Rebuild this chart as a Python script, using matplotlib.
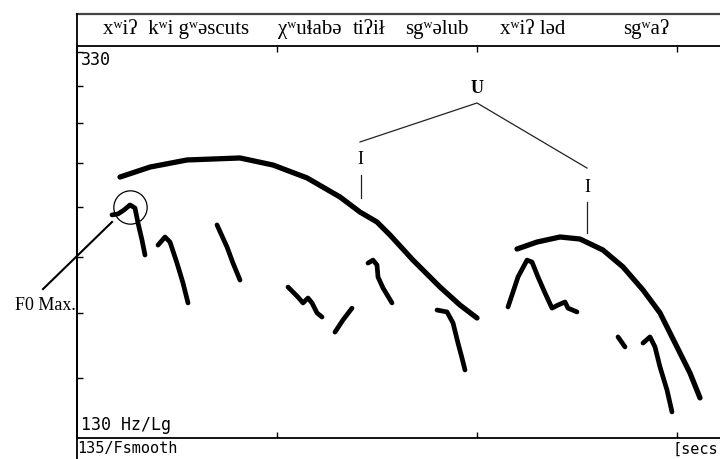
import matplotlib
matplotlib.use("Agg")
import matplotlib.pyplot as plt
from matplotlib.lines import Line2D
from matplotlib.ticker import NullLocator

SERIF = ["Liberation Serif", "DejaVu Serif"]
MONO = "DejaVu Sans Mono"

W, H = 720, 459

# smoothed intonation contours (secs, Hz)
ARC1_T = [0.215, 0.365, 0.55, 0.815, 0.98, 1.15, 1.315, 1.415, 1.5, 1.565, 1.68, 1.815, 1.915, 2.0]
ARC1_HZ = [241.7, 247.5, 251.7, 252.9, 248.7, 241.2, 230.5, 222.4, 217.2, 210.6, 198.4, 186.1, 178.3, 172.9]

ARC2_T = [2.2, 2.3, 2.415, 2.515, 2.63, 2.73, 2.83, 2.915, 3.0, 3.065, 3.115]
ARC2_HZ = [203.7, 207.1, 209.6, 208.6, 203.2, 195.2, 184.8, 175.0, 161.4, 151.7, 143.0]

# raw F0 fragments
F0_A_T = [0.175, 0.205, 0.235, 0.265, 0.29, 0.305, 0.325, 0.34]
F0_A_HZ = [220.9, 221.4, 223.5, 226.2, 224.5, 216.7, 208.1, 200.8]
F0_B_T = [0.405, 0.44, 0.465, 0.5, 0.53, 0.555]
F0_B_HZ = [205.6, 209.6, 207.1, 197.0, 187.9, 179.2]
F0_C_T = [0.7, 0.75, 0.78, 0.815]
F0_C_HZ = [215.7, 204.7, 197.0, 189.2]
F0_D_T = [1.055, 1.08, 1.105, 1.13, 1.155, 1.175, 1.2, 1.225]
F0_D_HZ = [186.1, 183.9, 181.7, 179.2, 181.3, 179.2, 175.0, 173.3]
F0_E_T = [1.29, 1.33, 1.375]
F0_E_HZ = [167.2, 172.1, 177.0]
F0_F_T = [1.455, 1.48, 1.5, 1.505, 1.53, 1.575]
F0_F_HZ = [197.0, 198.4, 196.1, 190.6, 185.7, 179.2]
F0_G_T = [1.8, 1.85, 1.88, 1.905, 1.925, 1.94]
F0_G_HZ = [176.2, 175.4, 170.9, 162.9, 157.2, 152.8]
F0_H_T = [2.155, 2.18, 2.205, 2.25, 2.275, 2.305, 2.34, 2.375, 2.405, 2.44, 2.455, 2.5]
F0_H_HZ = [177.5, 183.9, 190.6, 198.4, 197.5, 190.6, 183.5, 177.0, 178.3, 179.6, 177.0, 175.4]
F0_I_T = [2.705, 2.74]
F0_I_HZ = [165.3, 161.4]
F0_J_T = [2.83, 2.865, 2.89, 2.915, 2.95, 2.975]
F0_J_HZ = [162.9, 165.3, 161.4, 153.9, 145.7, 138.3]

# transcription across the top, with start time of each chunk
WORDS = ["xʷiʔ  kʷi gʷəscuts", "χʷuɬabə", "tiʔił", "sgʷəlub", "xʷiʔ ləd", "sgʷaʔ"]
WORD_T = [0.13, 1.005, 1.38, 1.64, 2.115, 2.73]

X_TICKS = [1, 2, 3]
Y_TICKS = [150, 175, 200, 225, 250, 275, 300, 325]

# F0 max marker and phrase tree (U over two I's)
PEAK_T, PEAK_HZ = 0.265, 225.1
TREE_T = [1.415, 2.0, 2.55]
TREE_HZ = [262.7, 288.2, 246.9]


fig = plt.figure(figsize=(7.2, 4.59), dpi=100)
ax = fig.add_axes([77 / W, (H - 438) / H, (W - 77) / W, (438 - 46) / H])
ax.set_yscale("log")
ax.set_xlim(0, 3.215)
ax.set_ylim(130, 330)
ax.set_xticks(X_TICKS)
ax.set_yticks(Y_TICKS)
ax.yaxis.set_minor_locator(NullLocator())
ax.tick_params(direction="in", length=4, width=1, top=True,
               labelleft=False, labelbottom=False)
ax.spines["right"].set_visible(False)
for s in ["left", "top", "bottom"]:
    ax.spines[s].set_linewidth(1.3)

thick = dict(color="black", lw=3.8, solid_capstyle="round", solid_joinstyle="round")
ax.plot(ARC1_T, ARC1_HZ, **thick)
ax.plot(ARC2_T, ARC2_HZ, **thick)

frag = dict(color="black", lw=3.4, solid_capstyle="round", solid_joinstyle="round")
for t, hz in [(F0_A_T, F0_A_HZ), (F0_B_T, F0_B_HZ), (F0_C_T, F0_C_HZ),
              (F0_D_T, F0_D_HZ), (F0_E_T, F0_E_HZ), (F0_F_T, F0_F_HZ),
              (F0_G_T, F0_G_HZ), (F0_H_T, F0_H_HZ), (F0_I_T, F0_I_HZ),
              (F0_J_T, F0_J_HZ)]:
    ax.plot(t, hz, **frag)

# circled F0 max with pointer
ax.plot([PEAK_T], [PEAK_HZ], "o", ms=24, mfc="none", mec="black", mew=0.9)
ax.plot([0.175, -0.17], [217.2, 185.2], color="black", lw=1.5, clip_on=False)
fig.text(45 / W, 1 - 306 / H, "F0 Max.", ha="center", va="center",
         fontsize=13, family=SERIF)

# tree
ax.plot(TREE_T, TREE_HZ, color="#222222", lw=0.9)
ax.plot([1.42, 1.42], [242.9, 230.0], color="#222222", lw=0.9)
ax.plot([2.55, 2.55], [227.8, 211.6], color="#222222", lw=0.9)
ax.text(2.0, 298.6, "U", ha="center", va="center", fontsize=13,
        fontweight="bold", family=SERIF)
ax.text(1.415, 251.7, "I", ha="center", va="center", fontsize=13, family=SERIF)
ax.text(2.55, 236.0, "I", ha="center", va="center", fontsize=13, family=SERIF)

# header band
fig.add_artist(Line2D([77 / W, 1], [1 - 14 / H, 1 - 14 / H],
                      transform=fig.transFigure, color="#444444", lw=1.6))
fig.add_artist(Line2D([77 / W, 77 / W], [0, 1 - 14 / H],
                      transform=fig.transFigure, color="black", lw=1.3))
for word, t in zip(WORDS, WORD_T):
    ax.text(t, (438 - 29) / 392, word, transform=ax.get_xaxis_transform(),
            ha="left", va="center", fontsize=15, family=SERIF, clip_on=False)

# axis readouts
ax.text(0.006, (438 - 60) / 392, "330", transform=ax.transAxes,
        ha="left", va="center", fontsize=12, family=MONO)
ax.text(0.006, (438 - 425) / 392, "130 Hz/Lg", transform=ax.transAxes,
        ha="left", va="center", fontsize=12, family=MONO)
fig.text(77 / W, 1 - 449 / H, "135/Fsmooth", ha="left", va="center",
         fontsize=11, family=MONO)
fig.text(718 / W, 1 - 449 / H, "[secs", ha="right", va="center",
         fontsize=11, family=MONO)

fig.savefig("out.png", dpi=100, facecolor="white")
